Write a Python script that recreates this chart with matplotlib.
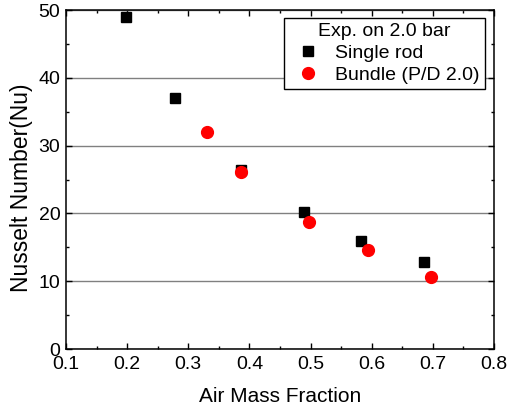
import matplotlib
matplotlib.use("Agg")
import matplotlib.pyplot as plt
from matplotlib.ticker import MultipleLocator

plt.rcParams['font.family'] = ['Liberation Sans', 'DejaVu Sans']

# single rod data
single_x = [0.198, 0.278, 0.387, 0.489, 0.582, 0.685]
single_nu = [48.9, 37.0, 26.4, 20.2, 15.9, 12.9]

# bundle (P/D 2.0) data
bundle_x = [0.330, 0.387, 0.497, 0.594, 0.697]
bundle_nu = [32.05, 26.1, 18.8, 14.6, 10.6]

fig = plt.figure(figsize=(5.18, 4.12), dpi=100)
ax = fig.add_axes([0.1274, 0.1529, 0.8263, 0.8228])

ax.yaxis.grid(True, color="#808080", linewidth=1.0)
ax.set_axisbelow(True)

ax.plot(single_x, single_nu, linestyle="none", marker="s", markersize=7,
        color="black", label="Single rod", zorder=3)
ax.plot(bundle_x, bundle_nu, linestyle="none", marker="o", markersize=8.5,
        color="red", markeredgecolor="red", label="Bundle (P/D 2.0)", zorder=4)

ax.set_xlim(0.1, 0.8)
ax.set_ylim(0, 50)
ax.xaxis.set_major_locator(MultipleLocator(0.1))
ax.xaxis.set_minor_locator(MultipleLocator(0.05))
ax.yaxis.set_major_locator(MultipleLocator(10))
ax.yaxis.set_minor_locator(MultipleLocator(5))
ax.tick_params(which="both", direction="in", top=True, right=True, labelsize=14, width=1.0)
ax.tick_params(which="major", length=4.5)
ax.tick_params(which="minor", length=2.5)
ax.tick_params(axis="x", which="major", pad=5)
ax.tick_params(axis="y", which="major", pad=4)
for sp in ax.spines.values():
    sp.set_linewidth(1.1)

ax.set_xlabel("Air Mass Fraction", fontsize=15)
ax.set_ylabel("Nusselt Number(Nu)", fontsize=16.5)
ax.xaxis.set_label_coords(0.5, -0.112)
ax.yaxis.set_label_coords(-0.076, 0.475)

leg = ax.legend(title="Exp. on 2.0 bar", loc="upper right", bbox_to_anchor=(0.978, 0.976),
                borderaxespad=0, fontsize=14, title_fontsize=14, fancybox=False,
                edgecolor="black", framealpha=1, labelspacing=0.22, handletextpad=0.4,
                handlelength=2.0, borderpad=0.25)
leg.get_frame().set_linewidth(1.0)

fig.savefig("out.png", dpi=100)
